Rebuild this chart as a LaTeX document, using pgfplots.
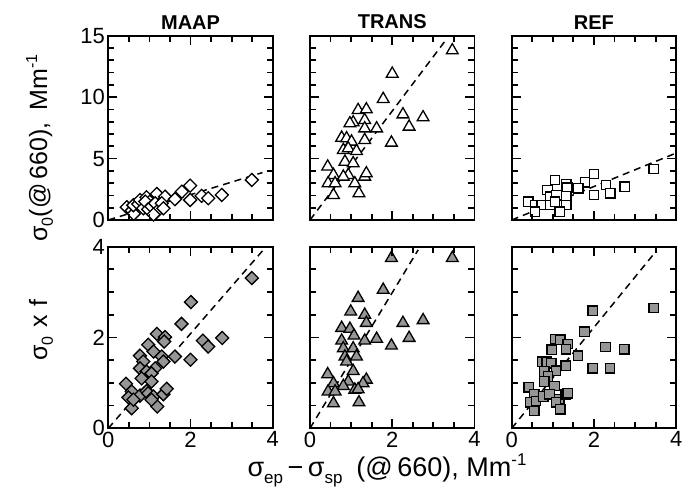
\documentclass[border=0pt]{standalone}
\usepackage{pgfplots}
\pgfplotsset{compat=1.18}
\usepackage{fontspec}
\setmainfont{Liberation Sans}
\definecolor{mgray}{RGB}{150,150,150}

\pgfplotsset{
  frameticks/.style n args={2}{after end axis/.append code={
    \foreach \i in {1,...,7}{
      \pgfmathsetmacro\r{\i/8}
      \pgfmathsetmacro\L{ifthenelse(\i==4,9,6)}
      \draw[black, line width=1.8pt] (rel axis cs:\r,0) -- ++(0pt,\L pt);
      \draw[black, line width=1.8pt] (rel axis cs:\r,1) -- ++(0pt,-\L pt);
    }
    \pgfmathtruncatemacro\nn{#1-1}
    \foreach \i in {1,...,\nn}{
      \pgfmathsetmacro\r{\i/#1}
      \pgfmathsetmacro\L{ifthenelse(mod(\i,#2)==0,9,6)}
      \draw[black, line width=1.8pt] (rel axis cs:0,\r) -- ++(\L pt,0pt);
      \draw[black, line width=1.8pt] (rel axis cs:1,\r) -- ++(-\L pt,0pt);
    }
  }},
  panel/.style={
    scale only axis, width=164.5pt, anchor=south west,
    xmin=0, xmax=4, xtick={0,2,4}, minor xtick={0.5,1,1.5,2.5,3,3.5},
    axis line style={line width=1.8pt},
    every tick/.style={black, line width=1.8pt},
    major tick length=9pt, minor tick length=6pt,
    xtick align=inside, ytick align=inside,
    tick label style={font=\fontsize{22}{22}\selectfont},
    title style={font=\fontsize{20}{20}\selectfont\bfseries, yshift=-3pt},
    clip=false,
    /pgf/number format/assume math mode=true,
  },
  toprow/.style={panel, height=184.3pt, ymin=0, ymax=15, ytick={0,5,10,15}, minor ytick={1,2,3,4,6,7,8,9,11,12,13,14}, xticklabels={}, frameticks={15}{5}},
  botrow/.style={panel, height=181.6pt, ymin=0, ymax=4, ytick={0,2,4}, minor ytick={0.5,1,1.5,2.5,3,3.5}, frameticks={8}{4}},
  noy/.style={yticklabels={}},
  dline/.style={black, line width=1.5pt, dash pattern=on 7pt off 5pt},
}

\begin{document}
\begin{tikzpicture}
\useasboundingbox (0pt,0pt) rectangle (683pt,492pt);

% ---------- top row ----------
\begin{axis}[toprow, at={(108.3pt,272pt)}, title={MAAP}]
\addplot[dline] coordinates {(0,0) (3.75,3.86)};
\addplot[only marks, mark=square*, mark size=4.6pt, mark options={rotate=45, draw=black, line width=1.3pt, fill=white}] table {
x y
0.45 1.04
0.57 0.76
0.62 0.50
0.61 1.20
0.73 1.30
0.77 1.63
0.93 1.85
0.85 0.95
1.01 1.49
0.90 1.50
0.97 0.87
1.05 1.10
1.18 2.12
1.14 1.36
1.38 1.90
1.30 1.36
1.18 0.68
1.10 0.45
1.34 0.95
1.62 1.69
1.79 2.31
1.99 2.80
1.99 1.63
2.27 1.96
2.43 1.77
2.76 2.04
3.49 3.26
};
\end{axis}

\begin{axis}[toprow, noy, at={(310pt,272pt)}, title={TRANS}]
\addplot[dline] coordinates {(0,0) (3.27,14.5)};
\addplot[only marks, mark=triangle*, mark size=6.8pt, mark options={draw=black, line width=1.3pt, fill=white}] table {
x y
3.46 13.8
2.00 11.9
1.78 9.84
1.17 8.94
1.37 9.00
2.26 8.59
2.75 8.35
2.41 7.59
1.05 7.94
0.97 7.86
1.33 8.13
1.33 7.45
1.62 7.45
0.77 6.69
0.89 6.64
1.01 6.37
1.33 6.50
1.98 6.29
0.81 5.69
0.93 5.83
1.13 5.61
0.85 4.74
1.05 4.61
0.43 4.34
0.57 3.66
0.93 3.66
0.44 2.98
0.61 2.98
1.09 2.98
1.33 3.52
1.37 3.79
0.57 2.03
1.19 2.17
0.81 3.52
};
\end{axis}

\begin{axis}[toprow, noy, at={(511.7pt,272pt)}, title={REF}]
\addplot[dline] coordinates {(0,0) (4,5.45)};
\addplot[only marks, mark=square*, mark size=4.7pt, mark options={draw=black, line width=1.3pt, fill=white}] table {
x y
3.45 4.15
2.00 3.74
1.78 3.06
1.05 3.25
1.33 2.90
1.35 2.63
1.62 2.57
2.29 2.85
2.75 2.71
2.40 2.17
2.00 2.03
0.87 2.44
0.93 1.90
1.09 2.03
1.33 1.95
0.40 1.49
0.57 1.22
0.73 1.22
0.93 1.22
1.05 1.49
1.33 1.22
0.57 0.68
1.17 0.68
};
\end{axis}

% ---------- bottom row ----------
\begin{axis}[botrow, at={(108.3pt,63.7pt)}]
\addplot[dline] coordinates {(0,0) (3.77,3.93)};
\addplot[only marks, mark=square*, mark size=4.6pt, mark options={rotate=45, draw=black, line width=1.3pt, fill=mgray}] table {
x y
3.49 3.31
2.01 2.78
1.78 2.30
1.18 2.08
1.38 2.01
1.36 1.91
2.30 1.93
2.43 1.80
2.77 1.99
0.97 1.84
1.10 1.69
0.77 1.60
1.30 1.58
1.62 1.58
1.34 1.47
2.00 1.51
0.85 1.47
0.77 1.32
1.14 1.32
0.93 1.25
1.05 1.21
0.81 1.10
1.05 1.03
0.43 0.98
0.57 0.81
0.49 0.68
0.77 0.72
0.93 0.82
0.97 0.77
1.10 0.70
1.34 0.75
1.42 0.87
1.19 0.48
0.57 0.44
0.61 0.63
1.05 0.63
};
\end{axis}

\begin{axis}[botrow, noy, at={(310pt,63.7pt)}]
\addplot[dline] coordinates {(0,0) (2.63,3.93)};
\addplot[only marks, mark=triangle*, mark size=6.8pt, mark options={draw=black, line width=1.3pt, fill=mgray}] table {
x y
1.98 3.75
3.46 3.75
1.78 3.05
1.17 2.87
0.99 2.57
1.33 2.50
1.37 2.32
2.26 2.32
2.75 2.38
0.77 2.21
0.97 2.19
1.07 2.04
1.33 1.93
1.62 1.97
2.41 1.99
1.98 1.82
0.77 1.93
0.81 1.76
1.05 1.76
0.85 1.58
1.13 1.58
0.89 1.47
1.05 1.26
0.43 1.19
0.57 0.99
0.93 1.03
1.37 1.07
1.29 0.99
0.81 0.93
0.44 0.81
0.61 0.81
1.09 0.85
1.17 0.86
0.57 0.55
1.19 0.57
};
\end{axis}

\begin{axis}[botrow, noy, at={(511.7pt,63.7pt)}]
\addplot[dline] coordinates {(0,0) (3.51,3.90)};
\addplot[only marks, mark=square*, mark size=4.7pt, mark options={draw=black, line width=1.3pt, fill=mgray}] table {
x y
3.45 2.65
1.97 2.59
1.77 2.13
1.06 1.97
1.18 1.95
1.36 1.86
0.97 1.73
1.32 1.74
1.61 1.60
2.28 1.79
2.74 1.74
1.97 1.32
2.39 1.32
0.75 1.47
0.85 1.47
0.96 1.43
1.31 1.38
0.79 1.25
1.08 1.27
0.88 1.14
1.04 0.93
0.79 1.03
0.41 0.90
0.55 0.75
0.45 0.57
0.59 0.60
0.77 0.70
0.92 0.75
1.16 0.64
1.08 0.57
1.31 0.75
1.36 0.77
0.55 0.38
1.18 0.42
};
\end{axis}

% ---------- labels ----------
\node[rotate=90, anchor=base] at (47pt,344pt) {\fontsize{25}{25}\selectfont σ\raisebox{-6pt}{\fontsize{16}{16}\selectfont 0}(@\,660),\hspace{12pt}Mm\raisebox{10pt}{\fontsize{16}{16}\selectfont -1}};
\node[rotate=90, anchor=base] at (47pt,162pt) {\fontsize{25}{25}\selectfont σ\raisebox{-6pt}{\fontsize{16}{16}\selectfont 0}\hspace{9pt}x\hspace{9pt}f};
\node[anchor=base] at (387pt,15pt) {\fontsize{27}{27}\selectfont σ\raisebox{-7pt}{\fontsize{17}{17}\selectfont ep}\,−\,σ\raisebox{-7pt}{\fontsize{17}{17}\selectfont sp}\hspace{14pt}(@\,660), Mm\raisebox{11pt}{\fontsize{17}{17}\selectfont -1}};
\end{tikzpicture}
\end{document}
